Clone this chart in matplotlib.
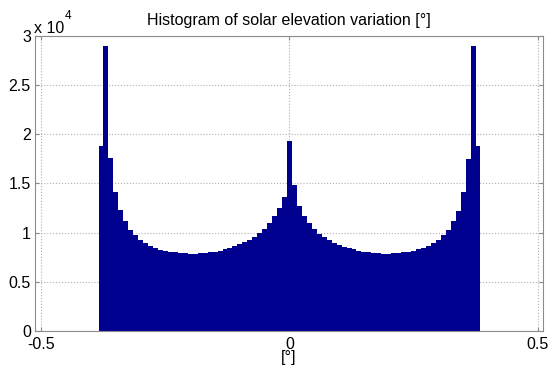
import matplotlib
matplotlib.use("Agg")
import matplotlib.pyplot as plt
import numpy as np

plt.rcParams['font.family'] = ['Liberation Sans', 'DejaVu Sans']

# bin centers [deg]
bin_centers = [-0.38, -0.37, -0.36, -0.35, -0.34, -0.33, -0.32, -0.31, -0.30, -0.29,
               -0.28, -0.27, -0.26, -0.25, -0.24, -0.23, -0.22, -0.21, -0.20, -0.19,
               -0.18, -0.17, -0.16, -0.15, -0.14, -0.13, -0.12, -0.11, -0.10, -0.09,
               -0.08, -0.07, -0.06, -0.05, -0.04, -0.03, -0.02, -0.01, 0.00, 0.01,
               0.02, 0.03, 0.04, 0.05, 0.06, 0.07, 0.08, 0.09, 0.10, 0.11,
               0.12, 0.13, 0.14, 0.15, 0.16, 0.17, 0.18, 0.19, 0.20, 0.21,
               0.22, 0.23, 0.24, 0.25, 0.26, 0.27, 0.28, 0.29, 0.30, 0.31,
               0.32, 0.33, 0.34, 0.35, 0.36, 0.37, 0.38]
# counts
counts = [18820, 29000, 17600, 14100, 12300, 11150, 10300, 9770, 9290, 8950,
          8650, 8410, 8280, 8170, 8080, 8010, 7950, 7910, 7880, 7870,
          7890, 7930, 7990, 8070, 8180, 8310, 8480, 8680, 8820, 9020,
          9260, 9600, 9930, 10340, 10950, 11650, 12500, 13580, 19330, 14800,
          12700, 11730, 11000, 10370, 9900, 9560, 9260, 8990, 8750, 8580,
          8410, 8310, 8180, 8070, 7990, 7930, 7890, 7870, 7880, 7910,
          7950, 8010, 8080, 8180, 8330, 8480, 8680, 8950, 9290, 9770,
          10300, 11150, 12230, 14120, 17530, 29000, 18820]
bin_width = 0.01

x_ticks = [-0.5, 0, 0.5]
x_tick_labels = ['-0.5', '0', '0.5']
y_ticks = [0, 5000, 10000, 15000, 20000, 25000, 30000]
y_tick_labels = ['0', '0.5', '1', '1.5', '2', '2.5', '3']

fig = plt.figure(figsize=(5.48, 3.67), dpi=100)
ax = fig.add_axes([35/548, 36/367, 508/548, 295/367])

ax.bar(bin_centers, counts, width=bin_width, align='center',
       color='#00008F', edgecolor='none', zorder=2)

ax.set_xlim(-0.513, 0.511)
ax.set_ylim(0, 30000)
ax.set_xticks(x_ticks)
ax.set_xticklabels(x_tick_labels)
ax.set_yticks(y_ticks)
ax.set_yticklabels(y_tick_labels)
ax.tick_params(direction='in', length=3, labelsize=11.5, colors='#888888',
               labelcolor='black')
ax.tick_params(axis='y', pad=3)
ax.tick_params(axis='x', pad=4)
ax.tick_params(top=True, right=True)
ax.grid(True, linestyle=':', color='#b0b0b0', linewidth=0.8, zorder=0)
ax.set_axisbelow(True)
for s in ax.spines.values():
    s.set_color('#8c8c8c')
    s.set_linewidth(0.8)

ax.set_title('Histogram of solar elevation variation [°]', fontsize=11.5, pad=8)
ax.set_xlabel('[°]', fontsize=11.5, labelpad=-1)

fig.text(34/548, 1 - 36/367, 'x 10', fontsize=11.5, ha='left', va='bottom')
fig.text(65/548, 1 - 22/367, '4', fontsize=8.5, ha='left', va='bottom')

fig.savefig('out.png', dpi=100)
